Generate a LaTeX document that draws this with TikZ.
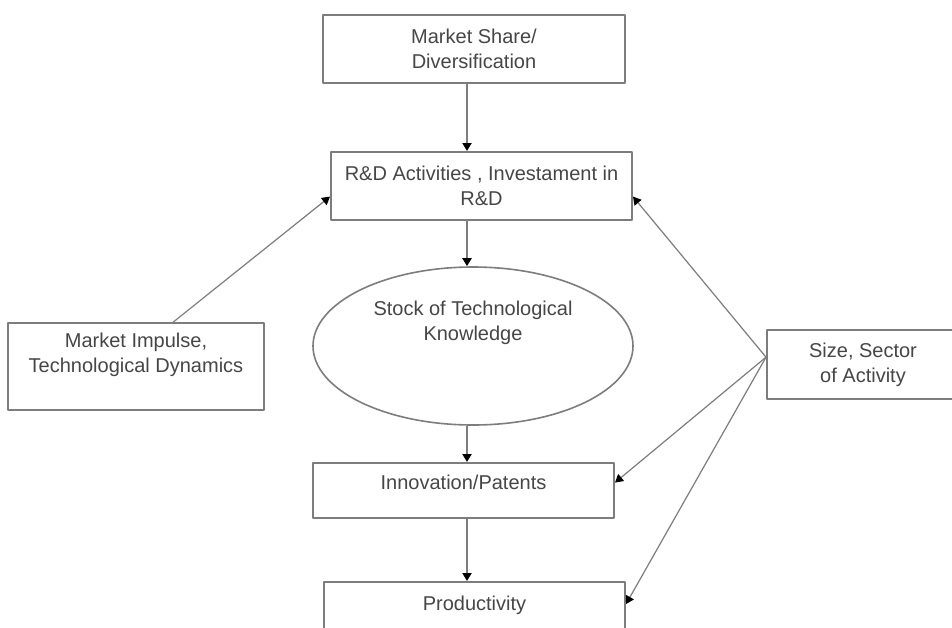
\documentclass[tikz,border=0pt]{standalone}
\usepackage{fontspec}
\setmainfont{Liberation Sans}
\usetikzlibrary{arrows.meta,shapes.geometric}
\definecolor{linegray}{RGB}{125,125,125}
\definecolor{textgray}{RGB}{70,70,70}
\begin{document}
\begin{tikzpicture}[x=0.5pt, y=-0.5pt, font=\fontsize{10}{12.5}\selectfont, line join=round,
		>={Triangle[length=4pt,width=4.5pt,color=black]},
		box/.style={draw=linegray, line width=1pt, rectangle, inner sep=0pt, align=center, text=textgray},
		oval/.style={draw=linegray, line width=0.8pt, ellipse, inner sep=0pt, align=center, text=textgray},
		mainarrow/.style={->, draw=linegray, line width=1pt},
		sidearrow/.style={->, draw=linegray, line width=0.6pt}]
		\useasboundingbox[fill=white] (0,0) rectangle (952,627);
		\coordinate (axis) at (467,0);
		% boxes of the main chain
		\node[box, minimum width=151pt, minimum height=34pt] (share) at (474,49) {Market Share/\\Diversification};
		\node[box, minimum width=150.5pt, minimum height=34pt] (rd) at (481.5,186) {R\&D Activities , Investament in\\R\&D};
		\node[oval, minimum width=160pt, minimum height=79pt] (stock) at (473,346) {Stock of Technological\\Knowledge\\[13pt]~};
		\node[box, minimum width=150.5pt, minimum height=27.5pt, text depth=8.5pt] (innov) at (463.5,490.5) {Innovation/Patents};
		\node[box, minimum width=150.5pt, minimum height=30pt, text depth=9pt] (prod) at (474.5,612) {Productivity};
		% side boxes
		\node[box, minimum width=104pt, minimum height=34.5pt] (size) at (871,364.5) {\hspace*{-8pt}Size, Sector\\\hspace*{-8pt}of Activity};
		\node[box, minimum width=128pt, minimum height=43.5pt] (impulse) at (136,366.5) {Market Impulse,\\Technological Dynamics\\[1pt]~};
		% main chain arrows
		\draw[mainarrow] (share.south -| axis) -- (rd.north -| axis);
		\draw[mainarrow] (rd.south -| axis) -- (stock.north -| axis);
		\draw[mainarrow] (stock.south -| axis) -- (innov.north -| axis);
		\draw[mainarrow] (innov.south -| axis) -- (prod.north -| axis);
		% side arrows
		\draw[sidearrow] (impulse.50) -- (rd.184);
		\draw[sidearrow] (size.176) -- (rd.-4.6);
		\draw[sidearrow] (size.176) -- (innov.3);
		\draw[sidearrow] (size.176) -- (prod.3);
\end{tikzpicture}
\end{document}
